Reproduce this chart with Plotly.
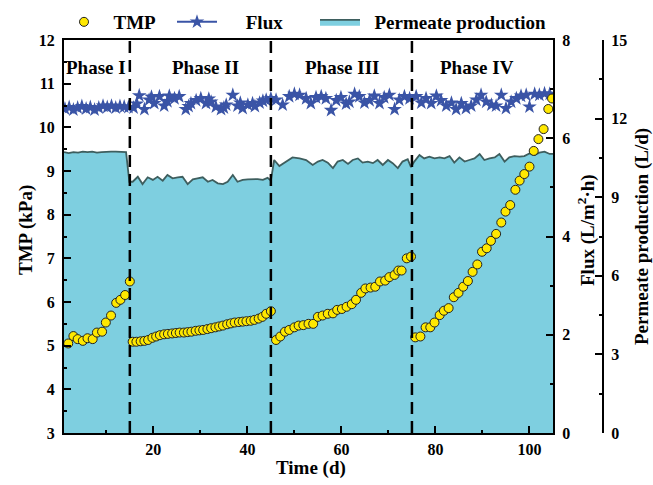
import plotly.graph_objects as go

# ---------------- data ----------------
tmp_days = [1.9, 3.0, 3.9, 5.0, 6.0, 7.1, 8.0, 9.1, 9.9, 11.0, 12.1, 13.0, 14.0, 15.0,
            15.6, 16.4, 17.3, 18.1, 18.9, 19.8, 20.6, 21.4, 22.3, 23.1, 24.0, 24.8, 25.6, 26.5,
            27.3, 28.1, 29.0, 29.8, 30.6, 31.5, 32.3, 33.2, 34.0, 34.8, 35.7, 36.5, 37.3, 38.2,
            39.0, 39.8, 40.7, 41.5, 42.4, 43.2, 44.0, 45.0,
            46.1, 47.0, 48.0, 48.9, 50.0, 50.9, 51.9, 53.0, 54.0, 55.0, 56.0, 57.1, 58.2, 59.1,
            60.1, 61.1, 62.2, 63.1, 64.2, 65.1, 66.2, 67.2, 68.2, 69.3, 70.2, 71.3, 72.1, 72.8,
            73.9, 74.8,
            75.7, 76.8, 77.9, 78.9, 79.8, 80.9, 81.8, 82.8, 83.9, 84.9, 85.9, 86.9, 87.9, 88.9,
            89.9, 90.9, 91.8, 92.9, 94.0, 94.9, 95.9, 97.0, 97.9, 98.9, 100.0, 100.9, 101.9,
            103.0, 104.0, 104.8]
tmp_vals = [5.05, 5.22, 5.15, 5.11, 5.17, 5.15, 5.30, 5.32, 5.53, 5.69, 5.98, 6.05, 6.16, 6.47,
            5.09, 5.09, 5.10, 5.11, 5.13, 5.18, 5.21, 5.24, 5.26, 5.27, 5.28, 5.29, 5.30, 5.30,
            5.31, 5.32, 5.34, 5.35, 5.36, 5.38, 5.40, 5.42, 5.44, 5.46, 5.49, 5.51, 5.53, 5.54,
            5.55, 5.56, 5.57, 5.59, 5.62, 5.66, 5.73, 5.79,
            5.13, 5.21, 5.32, 5.36, 5.42, 5.46, 5.47, 5.50, 5.50, 5.66, 5.69, 5.73, 5.74, 5.82,
            5.84, 5.89, 5.95, 6.05, 6.21, 6.31, 6.33, 6.35, 6.47, 6.49, 6.57, 6.62, 6.72, 6.72,
            7.00, 7.04,
            5.19, 5.21, 5.42, 5.42, 5.53, 5.70, 5.80, 5.86, 6.11, 6.21, 6.35, 6.48, 6.69, 6.86,
            7.15, 7.23, 7.40, 7.56, 7.82, 8.07, 8.22, 8.57, 8.78, 8.93, 9.10, 9.46, 9.73,
            9.96, 10.42, 10.66]

flux_days = [1.2, 2.1, 3.0, 3.9, 4.8, 5.7, 6.6, 7.5, 8.4, 9.3, 10.2, 11.1, 12.0, 12.9, 13.8, 14.7,
             15.8, 16.5, 17.0, 18.1, 19.1, 19.6, 20.2, 21.3, 22.3, 23.0, 23.4, 24.5, 25.5, 26.9,
             27.5, 28.0, 29.1, 30.1, 31.2, 31.8, 32.3, 33.3, 34.4, 35.0, 35.5, 36.9, 37.9, 38.5,
             39.0, 40.1, 41.1, 41.6, 42.6, 43.3, 44.0, 45.0,
             46.1, 47.5, 48.9, 50.0, 51.1, 52.5, 53.5, 54.6, 55.7, 56.7, 57.8, 58.9, 59.9, 61.0,
             61.7, 62.8, 63.8, 64.9, 66.0, 67.0, 68.1, 69.1, 70.2, 71.3, 72.3, 73.4, 74.5,
             75.9, 77.0, 78.0, 79.1, 80.2, 81.2, 82.3, 83.4, 84.4, 85.5, 86.5, 87.6, 88.7, 89.7,
             90.8, 91.9, 92.9, 94.0, 95.0, 96.1, 97.2, 98.2, 99.3, 100.0, 101.1, 102.1, 103.2, 104.3]
flux_vals = [6.60, 6.63, 6.58, 6.62, 6.65, 6.60, 6.63, 6.58, 6.62, 6.66, 6.63, 6.66, 6.62, 6.65, 6.64, 6.63,
             6.62, 6.70, 6.87, 6.59, 6.78, 6.84, 6.71, 6.85, 6.66, 6.75, 6.86, 6.81, 6.85, 6.59,
             6.65, 6.71, 6.77, 6.81, 6.71, 6.80, 6.74, 6.64, 6.59, 6.62, 6.68, 6.88, 6.66, 6.72,
             6.61, 6.68, 6.71, 6.65, 6.72, 6.76, 6.78, 6.81,
             6.78, 6.68, 6.85, 6.90, 6.88, 6.81, 6.71, 6.83, 6.85, 6.81, 6.57, 6.77, 6.83, 6.70,
             6.74, 6.90, 6.85, 6.72, 6.77, 6.86, 6.71, 6.83, 6.88, 6.59, 6.78, 6.85, 6.81,
             6.85, 6.72, 6.81, 6.71, 6.86, 6.77, 6.66, 6.72, 6.59, 6.71, 6.61, 6.66, 6.78, 6.88,
             6.74, 6.68, 6.66, 6.88, 6.61, 6.74, 6.81, 6.86, 6.88, 6.64, 6.90, 6.88, 6.91, 6.90]

perm_days = [1.0, 2.0, 3.0, 4.0, 5.0, 6.0, 7.0, 8.0, 9.0, 10.0, 11.0, 12.0, 13.0, 14.2, 14.9,
             15.6, 16.7, 17.7, 18.8, 19.9, 20.9, 22.0, 23.0, 24.1, 25.2, 26.2, 27.3, 28.4, 29.4,
             30.5, 31.6, 32.6, 33.7, 34.8, 35.8, 36.9, 37.9, 39.0, 40.1, 41.1, 42.2, 43.3, 44.3, 45.0,
             45.7, 46.8, 48.2, 49.6, 51.1, 52.5, 53.9, 55.0, 56.0, 57.1, 58.2, 59.2, 60.3, 61.4,
             62.4, 63.5, 64.5, 65.6, 66.7, 67.7, 68.8, 69.9, 70.9, 72.0, 73.0, 74.1, 74.8,
             75.5, 76.6, 77.6, 78.7, 79.8, 80.9, 81.9, 83.0, 84.0, 85.1, 86.2, 87.2, 88.3, 89.4,
             90.4, 91.5, 92.6, 93.6, 94.7, 95.7, 96.8, 97.9, 98.9, 100.0, 101.1, 102.1, 103.2,
             104.3, 105.0]
perm_vals = [10.72, 10.68, 10.72, 10.70, 10.74, 10.72, 10.74, 10.70, 10.72, 10.74, 10.74, 10.74, 10.74, 10.72, 9.59,
             9.59, 9.78, 9.50, 9.76, 9.66, 9.78, 9.63, 9.85, 9.72, 9.76, 9.78, 9.50, 9.68, 9.72,
             9.76, 9.59, 9.66, 9.53, 9.50, 9.59, 9.85, 9.59, 9.66, 9.68, 9.68, 9.69, 9.66, 9.74, 9.63,
             10.42, 10.19, 10.36, 10.52, 10.48, 10.42, 10.23, 10.36, 10.42, 10.32, 10.11, 10.36, 10.42, 10.27,
             10.42, 10.48, 10.32, 10.36, 10.30, 10.42, 10.23, 10.42, 10.30, 10.11, 10.36, 10.45, 10.15,
             10.36, 10.61, 10.48, 10.55, 10.48, 10.52, 10.48, 10.57, 10.32, 10.52, 10.36, 10.42, 10.48, 10.65,
             10.42, 10.48, 10.52, 10.65, 10.36, 10.52, 10.57, 10.55, 10.57, 10.67, 10.61, 10.70, 10.74,
             10.65, 10.65]

phase_bounds = [15, 45, 75]
phase_labels = ["Phase I", "Phase II", "Phase III", "Phase IV"]
phase_label_x = [7.9, 31.1, 60.2, 88.9]

x_ticks = [20, 40, 60, 80, 100]

# ---------------- style ----------------
W, H = 653, 485
FONT = "Liberation Serif"
X0, X1 = 64 / W, 553 / W
Y0, Y1 = 1 - 433 / H, 1 - 40 / H
AX3_POS = 603 / W
NB = "\u00a0"

fig = go.Figure()

fig.add_trace(go.Scatter(
    x=perm_days, y=perm_vals, name=NB * 2 + "Permeate production", yaxis="y",
    mode="lines", fill="tozeroy", fillcolor="#7ECFE0",
    line=dict(color="#3E5E5E", width=1.8), legend="legend3"))

fig.add_trace(go.Scatter(
    x=flux_days, y=flux_vals, name="Flux", yaxis="y2",
    mode="markers", marker=dict(symbol="star", size=11, color="#3A54A6",
                                line=dict(width=0)),
    showlegend=False))
fig.add_trace(go.Scatter(
    x=[None], y=[None], name=NB * 5 + "Flux", yaxis="y2",
    mode="lines+markers", marker=dict(symbol="star", size=11, color="#3A54A6"),
    line=dict(color="#3A54A6", width=2), legend="legend2"))

fig.add_trace(go.Scatter(
    x=tmp_days, y=tmp_vals, name=NB * 2 + "TMP", yaxis="y3",
    mode="markers", marker=dict(symbol="circle", size=9, color="#FFE800",
                                line=dict(color="#222222", width=1)),
    legend="legend"))

axis_common = dict(showgrid=False, zeroline=False, showline=True, linecolor="black",
                   linewidth=2, ticks="inside", tickcolor="black", tickwidth=2, ticklen=7,
                   automargin=False,
                   tickfont=dict(family=FONT, size=16, color="black", weight="bold"))

legend_font = dict(family=FONT, size=19, color="black", weight="bold")

fig.update_layout(
    width=W, height=H, margin=dict(l=0, r=0, t=0, b=0, autoexpand=False),
    paper_bgcolor="white", plot_bgcolor="white",
    font=dict(family=FONT, color="black"),
    xaxis=dict(domain=[X0, X1], range=[1, 105], tickvals=x_ticks, mirror=True,
               anchor="y", ticklabelstandoff=1,
               minor=dict(tickvals=[10, 30, 50, 70, 90], ticks="inside", ticklen=3,
                          tickwidth=2, tickcolor="black"),
               **axis_common),
    yaxis=dict(domain=[Y0, Y1], range=[0, 15], dtick=3, anchor="free",
               position=AX3_POS, side="right", ticklabelstandoff=4,
               minor=dict(dtick=1.5, ticks="inside", ticklen=3, tickwidth=2,
                          tickcolor="black"),
               **axis_common),
    yaxis2=dict(range=[0, 8], dtick=2, overlaying="y", side="right", anchor="x",
                ticklabelstandoff=4,
                minor=dict(dtick=1, ticks="inside", ticklen=3, tickwidth=2,
                           tickcolor="black"),
                **axis_common),
    yaxis3=dict(range=[3, 12], dtick=1, overlaying="y", side="left", anchor="x",
                ticklabelstandoff=4,
                minor=dict(dtick=0.5, ticks="inside", ticklen=3, tickwidth=2,
                           tickcolor="black"),
                **axis_common),
    legend=dict(x=64 / W, y=1 - 3 / H, xanchor="left", yanchor="top",
                orientation="h", bgcolor="rgba(0,0,0,0)",
                font=legend_font),
    legend2=dict(x=172 / W, y=1 - 3 / H, xanchor="left", yanchor="top",
                 orientation="h", bgcolor="rgba(0,0,0,0)", itemwidth=40,
                 font=legend_font),
    legend3=dict(x=315 / W, y=1 - 3 / H, xanchor="left", yanchor="top",
                 orientation="h", bgcolor="rgba(0,0,0,0)", itemwidth=40,
                 font=legend_font),
)

for b in phase_bounds:
    fig.add_shape(type="line", xref="x", yref="paper", x0=b, x1=b, y0=Y0, y1=Y1,
                  line=dict(color="black", width=2.5, dash="12px,7px"), layer="above")

for lab, lx in zip(phase_labels, phase_label_x):
    fig.add_annotation(text=lab, x=lx, xref="x", y=1 - 68 / H, yref="paper",
                       showarrow=False, xanchor="center", yanchor="middle",
                       font=dict(family=FONT, size=19, color="black", weight="bold"))

titles = [
    ("TMP (kPa)", 26 / W, 1 - 230 / H, -90),
    ("Flux (L/m<sup>2</sup>·h)", 586 / W, 1 - 230 / H, -90),
    ("Permeate production (L/d)", 642 / W, 1 - 237 / H, -90),
    ("Time (d)", 311 / W, 1 - 468 / H, 0),
]
for t, tx, ty, ang in titles:
    fig.add_annotation(text=t, x=tx, y=ty, xref="paper", yref="paper", showarrow=False,
                       textangle=ang, xanchor="center", yanchor="middle",
                       font=dict(family=FONT, size=19, color="black", weight="bold"))

fig.write_html("out.html")
